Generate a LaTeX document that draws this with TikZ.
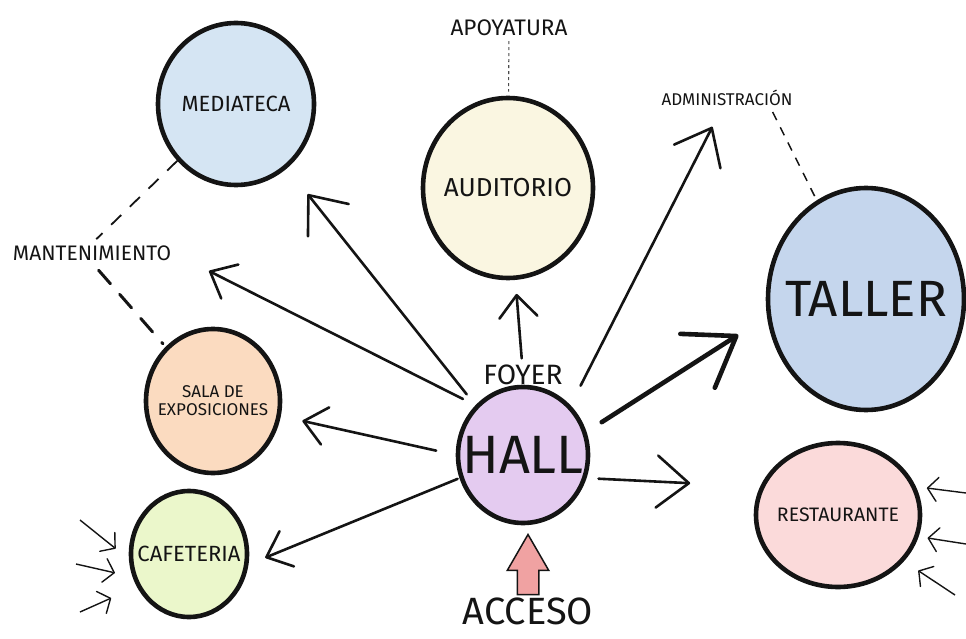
\documentclass[tikz,border=0pt]{standalone}
\usepackage{fontspec}
\setmainfont{Fira Sans}
\usetikzlibrary{arrows.meta, positioning, shapes.geometric, shapes.arrows}

\definecolor{mediablue}{RGB}{213,229,243}
\definecolor{audyellow}{RGB}{250,246,225}
\definecolor{tallerblue}{RGB}{197,214,237}
\definecolor{hallpurple}{RGB}{228,203,240}
\definecolor{salapeach}{RGB}{251,219,192}
\definecolor{cafegreen}{RGB}{235,247,203}
\definecolor{restopink}{RGB}{251,218,218}
\definecolor{accpink}{RGB}{240,162,162}
\definecolor{ink}{RGB}{20,20,20}

\newcommand\fsz[1]{\fontsize{#1}{#1}\selectfont}

\begin{document}
\begin{tikzpicture}[x=1pt, y=-1pt,
    room/.style={draw=ink, ellipse, line width=4.6pt, inner sep=-16pt, text=ink, align=center},
    lbl/.style={inner sep=2pt, text=ink},
    arr/.style={-{Straight Barb[length=32pt, width=52pt, round]}, ink, line width=2.6pt, line cap=round},
    arr small/.style={arr, -{Straight Barb[length=22pt, width=38pt, round]}},
    arr big/.style={arr, line width=4.6pt, -{Straight Barb[length=46pt, width=64pt, round]}},
    side arr/.style={-{Straight Barb[length=10pt, width=24pt, round]}, ink, line width=1.4pt},
    tie/.style={dashed, gray!60!black, line width=1.1pt},
    tie dark/.style={ink, line width=1.5pt, dash pattern=on 9pt off 8pt},
    tie mid/.style={ink, line width=1.8pt, dash pattern=on 14pt off 12pt},
    tie thick/.style={ink, line width=3pt, dash pattern=on 18pt off 14pt, line cap=round}]
  \useasboundingbox (0,0) rectangle (966,639);

  % rooms
  \node[room, fill=mediablue, minimum width=156pt, minimum height=162pt, font=\fsz{22}] (mediateca) at (236,104) {MEDIATECA};
  \node[room, fill=audyellow, minimum width=170pt, minimum height=180pt, font=\fsz{26}] (auditorio) at (508,188) {AUDITORIO};
  \node[room, fill=tallerblue, minimum width=196pt, minimum height=222pt, font=\fsz{51}] (taller) at (866,299) {TALLER};
  \node[room, fill=hallpurple, minimum width=130pt, minimum height=136pt, font=\fsz{54}] (hall) at (523,455) {HALL};
  \node[room, fill=salapeach, minimum width=134pt, minimum height=144pt, font=\fsz{17}] (sala) at (213,401) {SALA DE\\[1pt] EXPOSICIONES};
  \node[room, fill=cafegreen, minimum width=116pt, minimum height=126pt, font=\fsz{22}] (cafe) at (189,554) {CAFETERIA};
  \node[room, fill=restopink, minimum width=164pt, minimum height=144pt, font=\fsz{19.5}] (resto) at (838,515) {RESTAURANTE};

  % labels
  \node[lbl, font=\fsz{22.5}] (apoyatura) at (509,28) {APOYATURA};
  \node[lbl, font=\fsz{17}] (admin) at (727,98) {ADMINISTRACIÓN};
  \node[lbl, font=\fsz{21}] (manten) at (92,253) {MANTENIMIENTO};
  \node[lbl, font=\fsz{28}, above=-2pt of hall] (foyer) {FOYER};
  \node[lbl, font=\fsz{38}] (acceso) at (528,611) {ACCESO};
  \node[single arrow, shape border rotate=90, draw=ink, fill=accpink, line width=1.5pt,
        minimum height=60pt, inner sep=10pt, single arrow head extend=10pt,
        single arrow tip angle=60, above=0pt of acceso] (accarrow) {};

  % dashed ties
  \draw[tie, shorten <=3pt, shorten >=4pt] (apoyatura) -- (auditorio);
  \draw[tie dark, shorten >=3pt] ([xshift=-22pt,yshift=-4pt]admin.south east) -- (taller);
  \draw[tie mid, shorten >=6pt] (mediateca) -- (manten.north);
  \draw[tie thick, shorten <=10pt, shorten >=4pt] (manten.south) -- (sala);

  % flows out of the hall
  \draw[arr, shorten <=14pt, shorten >=33pt] (hall.north west) -- (mediateca);
  \draw[arr small, shorten <=14pt, shorten >=40pt] (hall.north west) -- (manten.east);
  \draw[arr small, shorten <=4pt, shorten >=14pt] (foyer) -- (auditorio);
  \draw[arr, shorten <=22pt, shorten >=21pt] (hall.north east) -- (admin);
  \draw[arr big, shorten <=18pt, shorten >=34pt] (hall.20) -- (taller.190);
  \draw[arr small, shorten <=20pt, shorten >=22pt] (hall.west) -- (sala);
  \draw[arr small, shorten <=2pt, shorten >=18pt] (hall.200) -- (cafe.-10);
  \draw[arr, shorten <=12pt, shorten >=70pt] (hall.-20) -- (resto.160);

  % outside entries
  \coordinate (cin1) at (80,520);
  \coordinate (cin2) at (76,564);
  \coordinate (cin3) at (80,612);
  \foreach \c/\a/\s in {cin1/185/17, cin2/202/18, cin3/212/28}
    \draw[side arr, shorten >=\s pt] (\c) -- (cafe.\a);
  \coordinate (rin1) at (966,493);
  \coordinate (rin2) at (966,544);
  \coordinate (rin3) at (955,595);
  \foreach \c/\a/\s in {rin1/20/11, rin2/-15/9, rin3/-35/17}
    \draw[side arr, shorten >=\s pt] (\c) -- (resto.\a);
\end{tikzpicture}
\end{document}
